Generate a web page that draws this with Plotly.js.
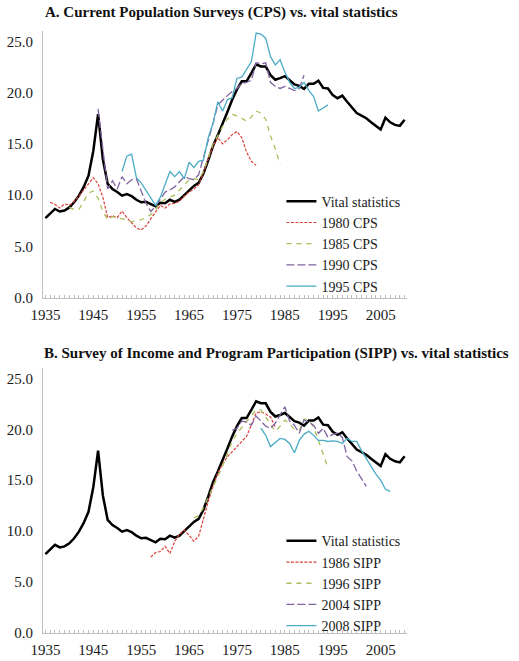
<!DOCTYPE html>
<html>
<head>
<meta charset="utf-8">
<script src="https://cdn.plot.ly/plotly-3.0.1.min.js"></script>
<style>
html,body{margin:0;padding:0;background:#fff;}
#chart{width:519px;height:661px;}
</style>
</head>
<body>
<div id="chart"></div>
<script>
// ---- Data ----
const vitalStart = 1935;
const vitalStats = [
  7.75, 8.2, 8.65, 8.4, 8.5, 8.8, 9.3, 9.95, 10.8, 11.9,
  14.3, 17.9, 13.5, 11.1, 10.6, 10.3, 9.95, 10.1, 9.9, 9.55,
  9.3, 9.35, 9.15, 8.9, 9.25, 9.2, 9.55, 9.35, 9.55, 10.0,
  10.55, 10.9, 11.2, 12.1, 13.4, 14.8, 15.85, 16.9, 18.1, 19.3,
  20.3, 21.1, 21.1, 21.9, 22.75, 22.55, 22.55, 21.7, 21.25, 21.4,
  21.6, 21.2, 20.8, 20.65, 20.35, 20.85, 20.85, 21.15, 20.45, 20.4,
  19.75, 19.45, 19.7, 19.1, 18.5, 18.0, 17.75, 17.5, 17.1, 16.75,
  16.4, 17.55, 17.1, 16.85, 16.75, 17.35
];

const cps1980Start = 1936;
const cps1980 = [
  9.3, 9.1, 8.75, 9.15, 9.0, 9.4, 9.9, 10.5, 11.2, 11.7,
  11.1, 9.8, 7.8, 8.0, 7.8, 8.45, 7.8, 7.3, 6.8, 6.6,
  7.0, 7.7, 8.3, 9.0, 8.75, 9.15, 9.2, 9.4, 9.9, 10.3,
  10.6, 11.0, 12.2, 13.5, 14.8, 15.6, 15.0, 15.4, 15.9, 16.2,
  15.6, 14.2, 13.3, 12.9
];

const cps1985Start = 1940;
const cps1985 = [
  8.8, 8.6, 8.6, 9.4, 10.2, 10.4, 9.7, 8.4, 7.6, 7.9,
  7.8, 7.7, 7.6, 7.4, 7.5, 7.6, 7.8, 8.1, 8.6, 9.3,
  9.6, 9.8, 10.0, 10.5, 11.0, 11.5, 11.6, 11.5, 12.3, 13.6,
  15.0, 15.8, 16.7, 17.4, 17.9, 17.7, 17.5, 17.2, 17.6, 18.2,
  18.0, 17.4, 15.8, 14.5, 13.0
];

const cps1990Start = 1946;
const cps1990 = [
  18.4, 14.5, 10.6, 11.4, 10.6, 11.8, 11.1, 11.5, 11.6, 10.4,
  9.2, 8.4, 8.9, 9.6, 10.3, 10.5, 10.8, 11.3, 11.8, 11.6,
  11.5, 12.0, 13.6, 15.2, 17.0, 18.8, 19.3, 19.7, 20.1, 20.4,
  20.9, 21.0, 21.2, 22.9, 22.8, 22.9, 21.0, 20.6, 20.4, 20.6,
  20.4, 20.2, 20.4, 21.7
];

const cps1995Start = 1951;
const cps1995 = [
  12.3, 13.8, 14.0, 11.7, 11.2, 10.5, 9.8, 9.0, 9.8, 11.0,
  12.3, 11.8, 12.3, 11.6, 13.2, 12.7, 13.3, 13.4, 15.6, 17.0,
  19.1, 18.2, 19.3, 19.5, 21.4, 21.5, 22.3, 23.0, 25.8, 25.7,
  25.3, 23.5, 22.7, 23.2, 22.0, 21.0, 20.4, 20.5, 21.0, 20.2,
  19.6, 18.2, 18.5, 18.8
];

const sipp1986Start = 1957;
const sipp1986 = [
  7.45, 7.9, 8.0, 8.5, 7.8, 9.0, 9.7, 10.1, 9.6, 9.0,
  9.5, 11.3, 12.9, 14.4, 15.7, 16.6, 17.3, 17.8, 18.3, 18.7,
  19.3, 20.4, 21.6, 21.7, 21.5, 21.2, 20.2
];

const sipp1996Start = 1966;
const sipp1996 = [
  11.3, 11.5, 12.3, 13.3, 14.4, 15.3, 16.4, 17.6, 18.8, 19.6,
  20.2, 20.8, 21.4, 21.9, 21.9, 21.2, 20.6, 19.8, 20.3, 20.9,
  20.5, 20.0, 19.9, 21.0, 20.9, 20.2, 18.9, 17.5, 16.2
];

const sipp2004Start = 1974;
const sipp2004 = [
  19.9, 20.1, 20.8, 20.7, 20.4, 21.3, 20.8, 20.3, 20.1, 20.6,
  21.4, 22.2, 20.8, 20.4, 19.6, 20.9, 20.7, 20.4, 19.6, 20.1,
  19.2, 19.5, 19.6, 19.2, 17.3, 16.9, 15.9, 15.2, 14.4
];

const sipp2008Start = 1980;
const sipp2008 = [
  20.1, 19.4, 18.3, 18.7, 19.1, 19.0, 18.6, 17.7, 18.9, 19.5,
  19.8, 19.4, 18.9, 18.9, 18.8, 18.85, 18.8, 18.6, 19.1, 18.8,
  18.8, 17.9, 17.1, 16.3, 15.6, 15.0, 14.1, 13.9
];

const xTickVals = [1935, 1945, 1955, 1965, 1975, 1985, 1995, 2005];
const yTickVals = [0, 5, 10, 15, 20, 25];
const titleA = "A. Current Population Surveys (CPS) vs. vital statistics";
const titleB = "B. Survey of Income and Program Participation (SIPP) vs. vital statistics";

// ---- Styles ----
const SERIF = "'Liberation Serif', 'Times New Roman', serif";
const C_BLACK = "#000000";
const C_RED = "#d9413b";
const C_GREEN = "#a8bf5a";
const C_PURPLE = "#8064a2";
const C_CYAN = "#4bacc6";

function tr(name, start, vals, color, dash, width, xa, ya, leg) {
  return {
    type: "scatter", mode: "lines", name: name,
    x0: start, dx: 1, y: vals,
    xaxis: xa, yaxis: ya, legend: leg,
    line: {color: color, dash: dash, width: width},
    hoverinfo: "x+y+name"
  };
}

const data = [
  tr("Vital statistics", vitalStart, vitalStats, C_BLACK, "solid", 2.5, "x", "y", "legend"),
  tr("1980 CPS", cps1980Start, cps1980, C_RED, "3px,1.5px", 1.2, "x", "y", "legend"),
  tr("1985 CPS", cps1985Start, cps1985, C_GREEN, "5px,5px", 1.3, "x", "y", "legend"),
  tr("1990 CPS", cps1990Start, cps1990, C_PURPLE, "8px,3px", 1.3, "x", "y", "legend"),
  tr("1995 CPS", cps1995Start, cps1995, C_CYAN, "solid", 1.3, "x", "y", "legend"),
  tr("Vital statistics", vitalStart, vitalStats, C_BLACK, "solid", 2.5, "x2", "y2", "legend2"),
  tr("1986 SIPP", sipp1986Start, sipp1986, C_RED, "3px,1.5px", 1.2, "x2", "y2", "legend2"),
  tr("1996 SIPP", sipp1996Start, sipp1996, C_GREEN, "5px,5px", 1.3, "x2", "y2", "legend2"),
  tr("2004 SIPP", sipp2004Start, sipp2004, C_PURPLE, "8px,3px", 1.3, "x2", "y2", "legend2"),
  tr("2008 SIPP", sipp2008Start, sipp2008, C_CYAN, "solid", 1.3, "x2", "y2", "legend2")
];

const tickFont = {family: SERIF, size: 15, color: "#1a1a1a"};

function xAxis(anchor) {
  return {
    anchor: anchor, domain: [0, 1], range: [1934.5, 2010.5],
    tickvals: xTickVals, ticks: "inside", ticklen: 3, tickcolor: "#bfbfbf",
    ticklabelstandoff: 3,
    minor: {dtick: 1, tick0: 1935, ticks: "inside", ticklen: 3, tickcolor: "#bfbfbf", showgrid: false},
    showline: true, linecolor: "#bfbfbf", linewidth: 1,
    showgrid: false, zeroline: false, tickfont: tickFont, fixedrange: true
  };
}
function yAxis(anchor, domain) {
  return {
    anchor: anchor, domain: domain, range: [0, 26],
    tickvals: yTickVals, tickformat: ".1f", ticks: "", ticklabelstandoff: 6,
    showline: true, linecolor: "#bfbfbf", linewidth: 1,
    showgrid: false, zeroline: false, tickfont: tickFont, fixedrange: true
  };
}

const legendFont = {family: SERIF, size: 14, color: "#1a1a1a"};

const layout = {
  width: 519, height: 661,
  margin: {l: 43, r: 112, t: 31, b: 28},
  paper_bgcolor: "#ffffff", plot_bgcolor: "#ffffff",
  showlegend: true,
  xaxis: xAxis("y"),
  yaxis: yAxis("x", [0.557, 1]),
  xaxis2: xAxis("y2"),
  yaxis2: yAxis("x2", [0, 0.44]),
  legend: {x: 0.655, y: 0.743, xanchor: "left", yanchor: "top", bgcolor: "rgba(0,0,0,0)",
           font: legendFont, itemwidth: 30, tracegroupgap: 0},
  legend2: {x: 0.655, y: 0.179, xanchor: "left", yanchor: "top", bgcolor: "rgba(0,0,0,0)",
            font: legendFont, itemwidth: 30, tracegroupgap: 0},
  annotations: [
    {text: "<b>" + titleA + "</b>", xref: "paper", yref: "paper", x: 0, y: 1.03,
     xanchor: "left", yanchor: "middle", showarrow: false,
     font: {family: SERIF, size: 15, color: "#111"}},
    {text: "<b>" + titleB + "</b>", xref: "paper", yref: "paper", x: -0.003, y: 0.465,
     xanchor: "left", yanchor: "middle", showarrow: false,
     font: {family: SERIF, size: 15, color: "#111"}}
  ]
};

Plotly.newPlot("chart", data, layout, {displayModeBar: false, staticPlot: true});
</script>
</body>
</html>
